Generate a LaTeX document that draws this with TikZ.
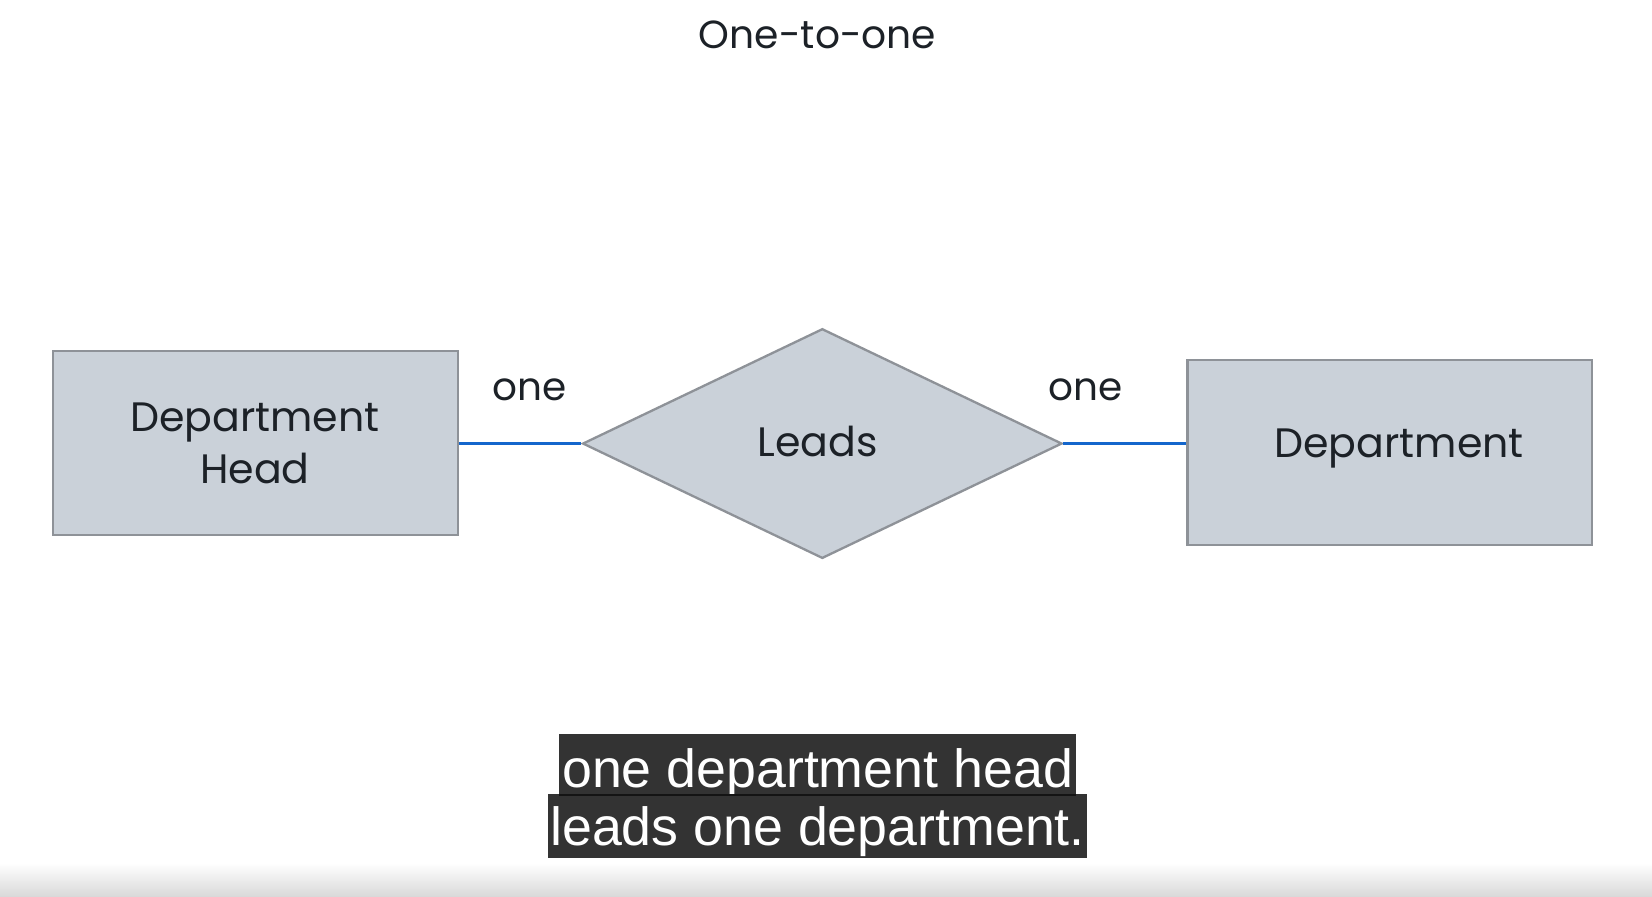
\documentclass[tikz,border=0pt]{standalone}
\usepackage{fontspec}
\setmainfont{Poppins}
\newfontfamily\capfont{Liberation Sans}
\usetikzlibrary{shapes.geometric}
\definecolor{boxfill}{HTML}{CAD1D9}
\definecolor{boxline}{HTML}{8E9298}
\definecolor{inktext}{HTML}{1C2127}
\definecolor{linkblue}{HTML}{1466CC}
\definecolor{capbg}{HTML}{333333}
\definecolor{capedge}{HTML}{141414}
\tikzset{
  entity/.style={draw=boxline, fill=boxfill, line width=1.1pt, inner sep=0pt},
  relation/.style={diamond, draw=boxline, fill=boxfill, line width=1.1pt, inner sep=0pt},
  bigtext/.style={text=inktext, inner sep=0pt, align=center, font=\fontsize{19.5}{24.5}\selectfont},
  cardlabel/.style={text=inktext, inner sep=0pt, font=\fontsize{18.5}{22}\selectfont},
  link/.style={draw=linkblue, line width=1.4pt},
  caption/.style={fill=capbg, text=white, inner sep=0pt, anchor=north, font=\capfont\fontsize{25.5}{28}\selectfont}
}
\begin{document}
\begin{tikzpicture}[x=0.5pt,y=-0.5pt]
\useasboundingbox (0,0) rectangle (1568,851);
\fill[white] (0,0) rectangle (1568,851);
\shade[top color=white, bottom color=black!15] (0,819) rectangle (1568,851);
\node[bigtext, font=\fontsize{18.6}{22}\selectfont] (title) at (776,33) {One-to-one};
\node[entity, minimum width=192.5pt, minimum height=87.5pt] (head) at (242.5,420.5) {};
\node[bigtext] (headtext) at (242,421) {Department\\Head};
\node[relation, minimum width=227.5pt, minimum height=109pt] (leads) at (780.5,421) {};
\node[bigtext] (leadstext) at (776,419) {Leads};
\node[entity, minimum width=192pt, minimum height=87.5pt] (dept) at (1319,429.5) {};
\node[bigtext] (depttext) at (1328,426) {Department};
\draw[link] (head.east |- leads.west) -- (leads.west);
\draw[link] (leads.east) -- (leads.east -| dept.west);
\node[cardlabel] (one1) at (503,370) {one};
\node[cardlabel] (one2) at (1030,370) {one};
\node[caption, minimum width=245pt, text height=25.35pt, text depth=3.4pt] (cap1) at (776,696) {one department head};
\node[caption, minimum width=256pt, text height=24.5pt, text depth=5.5pt] (cap2) at (776,753.5) {leads one department.};
\draw[capedge, line width=1pt] (cap1.south west) -- (cap1.south east);
\end{tikzpicture}
\end{document}
